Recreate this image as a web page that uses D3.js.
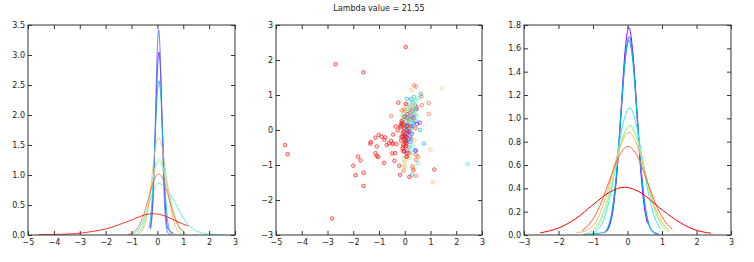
<!DOCTYPE html>
<html>
<head>
<meta charset="utf-8">
<script src="https://cdn.jsdelivr.net/npm/d3@7"></script>
<style>
  body { margin: 0; background: #fff; }
  text { font-family: "DejaVu Sans", sans-serif; }
</style>
</head>
<body>
<svg id="fig"></svg>
<script>
let lambdaValue = 21.55;

// rainbow colormap, 9 steps, purple -> red
let curveColors = ["#8000ff", "#4062fa", "#00b4eb", "#40ecd4", "#80ffb4",
                   "#c0eb8d", "#ffb462", "#ff6232", "#ff0000"];

let leftXTicks = [-5, -4, -3, -2, -1, 0, 1, 2, 3];
let leftYTicks = [0, 0.5, 1, 1.5, 2, 2.5, 3, 3.5];
let midXTicks = [-5, -4, -3, -2, -1, 0, 1, 2, 3];
let midYTicks = [-3, -2, -1, 0, 1, 2, 3];
let rightXTicks = [-3, -2, -1, 0, 1, 2, 3];
let rightYTicks = [0, 0.2, 0.4, 0.6, 0.8, 1.0, 1.2, 1.4, 1.6, 1.8];

// left panel densities, same order as curveColors
let leftCurves = [
    [[-0.27, 0.13], [-0.2, 0.41], [-0.135, 0.99], [-0.07, 1.85], [-0.005, 2.69], [0.06, 3.05], [0.125, 2.69], [0.19, 1.85], [0.255, 0.99], [0.32, 0.41], [0.385, 0.14], [0.5, 0.06], [0.6, 0.04]],
    [[-0.27, 0.09], [-0.184, 0.46], [-0.126, 1.11], [-0.067, 2.07], [-0.009, 3.02], [0.05, 3.42], [0.109, 3.02], [0.167, 2.07], [0.226, 1.11], [0.284, 0.46], [0.343, 0.15], [0.401, 0.04], [0.5, 0.01]],
    [[-0.33, 0.11], [-0.25, 0.35], [-0.17, 0.83], [-0.095, 1.56], [-0.018, 2.27], [0.06, 2.57], [0.138, 2.27], [0.215, 1.56], [0.293, 0.83], [0.37, 0.35], [0.448, 0.11], [0.525, 0.03], [0.65, 0.01]],
    [[-1.0, 0.02], [-0.8, 0.06], [-0.6, 0.18], [-0.4, 0.42], [-0.2, 0.68], [0.05, 0.86], [0.3, 0.79], [0.6, 0.6], [0.9, 0.36], [1.2, 0.17], [1.5, 0.07], [1.9, 0.02], [2.5, 0.0]],
    [[-0.85, 0.01], [-0.55, 0.17], [-0.4, 0.41], [-0.25, 0.76], [-0.1, 1.11], [0.05, 1.26], [0.24, 1.11], [0.43, 0.76], [0.62, 0.41], [0.81, 0.17], [1.0, 0.05], [1.15, 0.01]],
    [[-0.8, 0.01], [-0.52, 0.17], [-0.38, 0.4], [-0.24, 0.74], [-0.1, 1.08], [0.05, 1.23], [0.23, 1.08], [0.41, 0.74], [0.6, 0.4], [0.79, 0.17], [0.98, 0.05], [1.1, 0.02]],
    [[-0.7, 0.02], [-0.45, 0.22], [-0.33, 0.53], [-0.205, 0.99], [-0.083, 1.44], [0.04, 1.63], [0.19, 1.44], [0.34, 0.99], [0.49, 0.53], [0.64, 0.22], [0.79, 0.07], [0.94, 0.02]],
    [[-1.14, 0.01], [-0.925, 0.045], [-0.73, 0.14], [-0.535, 0.33], [-0.34, 0.62], [-0.145, 0.9], [0.05, 1.02], [0.245, 0.9], [0.44, 0.62], [0.635, 0.33], [0.83, 0.14], [0.95, 0.07]],
    [[-4.6, 0.005], [-4, 0.01], [-3.5, 0.015], [-3, 0.03], [-2.5, 0.06], [-2, 0.1], [-1.5, 0.17], [-1, 0.25], [-0.6, 0.32], [-0.2, 0.355], [0.2, 0.33], [0.6, 0.26], [1.0, 0.18], [1.2, 0.15]]
];

// right panel densities, same order as curveColors
let rightCurves = [
    [[-0.61, 0.03], [-0.52, 0.08], [-0.408, 0.24], [-0.296, 0.58], [-0.184, 1.08], [-0.072, 1.57], [0.04, 1.78], [0.152, 1.57], [0.264, 1.08], [0.376, 0.58], [0.488, 0.24], [0.578, 0.1]],
    [[-0.655, 0.02], [-0.538, 0.075], [-0.42, 0.23], [-0.303, 0.55], [-0.185, 1.03], [-0.068, 1.5], [0.05, 1.7], [0.168, 1.5], [0.285, 1.03], [0.403, 0.55], [0.52, 0.23], [0.638, 0.075], [0.755, 0.02], [0.9, 0.005]],
    [[-1.27, 0.005], [-1.0, 0.01], [-0.7, 0.02], [-0.56, 0.073], [-0.44, 0.226], [-0.32, 0.54], [-0.2, 1.01], [-0.08, 1.47], [0.04, 1.67], [0.16, 1.47], [0.28, 1.01], [0.4, 0.54], [0.52, 0.226], [0.64, 0.073], [0.75, 0.03], [0.9, 0.01]],
    [[-1.075, 0.009], [-0.855, 0.048], [-0.67, 0.147], [-0.489, 0.354], [-0.306, 0.661], [-0.123, 0.962], [0.06, 1.09], [0.243, 0.962], [0.426, 0.661], [0.609, 0.354], [0.792, 0.147], [0.96, 0.053]],
    [[-1.0, 0.036], [-0.77, 0.127], [-0.56, 0.305], [-0.35, 0.57], [-0.14, 0.83], [0.07, 0.94], [0.28, 0.83], [0.49, 0.57], [0.7, 0.305], [0.91, 0.127], [1.15, 0.034]],
    [[-1.23, 0.01], [-1.015, 0.041], [-0.8, 0.126], [-0.585, 0.302], [-0.37, 0.564], [-0.155, 0.821], [0.06, 0.93], [0.275, 0.821], [0.49, 0.564], [0.705, 0.302], [0.92, 0.126], [1.135, 0.041], [1.2, 0.028]],
    [[-1.47, 0.02], [-1.2, 0.04], [-0.9, 0.12], [-0.6, 0.35], [-0.3, 0.68], [0.04, 0.88], [0.35, 0.71], [0.6, 0.43], [0.85, 0.2], [1.05, 0.09], [1.2, 0.04]],
    [[-1.32, 0.039], [-1.08, 0.103], [-0.805, 0.247], [-0.53, 0.461], [-0.255, 0.671], [0.02, 0.76], [0.295, 0.671], [0.57, 0.461], [0.845, 0.247], [1.12, 0.103], [1.3, 0.05]],
    [[-2.53, 0.018], [-2, 0.06], [-1.5, 0.14], [-1, 0.26], [-0.5, 0.37], [-0.09, 0.41], [0.4, 0.36], [0.9, 0.24], [1.4, 0.13], [1.9, 0.05], [2.42, 0.015]]
];

// middle panel scatter, one list per colour
let scatterPurple = [[0.58, 0.21], [0.47, 0.17], [0.44, 0.59], [0.41, -0.59], [-0.03, -0.62], [0.1, -0.1], [0.15, 0.05], [0.2, -0.2], [0.12, 0.15], [0.05, -0.3], [0.25, 0.1], [0.18, -0.05], [0.08, 0.0], [0.22, 0.3], [0.3, 0.4], [0.14, -0.25], [0.02, -0.15], [0.28, -0.1], [0.35, 0.2], [0.1, 0.35], [0.06, -0.45], [0.2, 0.5]];
let scatterBlue = [[0.25, 0.88], [0.23, -0.34], [0.43, -0.59], [0.3, 0.55], [0.15, 0.3], [0.05, 0.1], [-0.05, -0.2], [0.2, -0.1], [0.35, 0.35], [0.1, -0.35], [0.28, 0.12], [0.0, 0.05], [0.4, 0.7], [0.12, 0.45], [-0.1, 0.15], [0.18, -0.5], [0.25, -0.25], [0.08, -0.6]];
let scatterCyan = [[0.62, 1.03], [0.36, 0.94], [0.74, -0.39], [0.59, 0.0], [0.28, -1.28], [0.08, 0.89], [0.32, 0.78], [0.45, 0.6], [0.2, 0.4], [0.1, 0.2], [0.3, 0.3], [0.05, -0.1], [0.38, 0.45], [0.15, -0.2], [0.25, 0.05], [-0.05, 0.3], [0.42, 0.25], [0.2, 0.65]];
let scatterTeal = [[2.44, -0.98], [0.31, -0.47], [0.5, -0.95], [0.42, 0.85], [0.55, 0.92], [0.35, 0.62], [0.2, 0.55], [0.1, 0.3], [-0.1, 0.2], [0.25, 0.2], [0.45, 0.4], [0.0, -0.05], [0.15, 0.1], [-0.05, 0.45], [0.3, -0.65], [0.38, 0.12], [0.12, -0.3], [0.22, 0.75]];
let scatterMint = [[-0.04, -1.01], [0.45, 0.7], [0.3, 0.5], [0.15, 0.6], [0.0, 0.35], [-0.12, 0.3], [0.2, 0.25], [0.4, 0.3], [0.1, 0.05], [-0.08, -0.3], [0.25, -0.15], [0.05, 0.55], [0.35, 0.85], [0.18, -0.45], [-0.15, 0.05]];
let scatterLime = [[1.43, 1.19], [-0.06, -0.85], [0.3, 0.75], [0.2, 0.45], [0.1, 0.6], [-0.05, 0.1], [0.4, 0.5], [0.25, 0.0], [0.0, -0.4], [0.15, -0.6], [0.35, 0.95], [-0.1, 0.4], [0.05, -0.75], [0.28, 0.3]];
let scatterGold = [[0.25, 1.14], [1.0, -0.56], [1.09, -1.49], [0.0, -1.04], [0.16, -0.19], [0.41, 0.05], [0.31, 0.67], [0.05, 0.75], [-0.02, 0.55], [0.15, -0.8], [0.0, -0.9], [0.12, 0.3], [-0.1, -0.6], [0.22, 0.6], [0.38, -0.3], [0.08, -0.45], [0.3, -1.05], [-0.05, 0.2]];
let scatterOrange = [[0.36, 1.28], [0.44, 1.24], [0.65, 0.96], [0.93, 0.77], [0.93, 0.46], [0.67, 0.71], [0.49, 0.65], [-0.53, 0.4], [-0.12, 0.56], [-0.01, 0.59], [0.31, 0.34], [0.41, 0.05], [0.44, -0.71], [0.52, -0.76], [0.44, -0.85], [0.3, -1.04], [0.32, -1.13], [0.34, -1.15], [0.44, -1.31], [-0.05, -1.16], [0.05, -0.76], [0.18, -0.66], [-0.08, -0.47], [-0.47, -0.41], [0.1, 0.45], [0.2, 0.1], [-0.15, -0.2], [0.28, 0.55]];
let scatterRed = [[0.04, 2.37], [-2.69, 1.88], [-1.61, 1.65], [-4.65, -0.43], [-4.55, -0.69], [-2.82, -2.53], [-1.6, -1.22], [-1.6, -1.6], [-1.91, -1.29], [-2.0, -1.02], [-1.81, -0.76], [-1.72, -0.87], [-1.32, -0.34], [-1.34, -0.39], [-1.14, -0.22], [-1.09, -0.47], [-1.14, -0.66], [-1.09, -0.74], [-1.03, -0.77], [-1.01, -0.14], [-0.9, -0.19], [-0.76, -0.21], [-0.79, -0.28], [-0.8, -0.94], [-0.7, -0.43], [-0.62, -0.38], [-0.53, -0.31], [-0.47, -0.38], [-0.49, -0.67], [-0.4, -0.88], [-0.37, -0.66], [-0.45, -0.13], [-0.32, -0.4], [-0.36, 0.1], [-0.27, -0.01], [-0.25, 0.78], [-0.21, -1.02], [-0.18, -1.28], [-0.08, -0.53], [-0.1, -0.19], [-0.13, 0.19], [-0.01, 0.38], [-0.05, -0.05], [-0.01, -0.28], [0.05, -0.38], [0.03, -0.47], [0.08, -0.76], [0.1, -0.66], [0.18, -1.34], [1.15, -1.13], [0.05, 0.74], [0.13, -0.04], [-0.05, 0.18], [-0.16, 0.08], [-0.08, -0.09], [0.0, -0.18], [-0.12, 0.25], [-0.18, 0.12], [-0.02, 0.05], [0.02, -0.33], [-0.06, -0.42], [0.06, -0.2], [-0.14, -0.3], [0.08, 0.12], [-0.03, -0.6]];

let scatterGroups = [scatterPurple, scatterBlue, scatterCyan, scatterTeal, scatterMint,
                     scatterLime, scatterGold, scatterOrange, scatterRed];

let W = 754, H = 262;
let plotTop = 25, plotBottom = 235;
let panels = [
    {x0: 28, x1: 235, xd: [-5, 3], yd: [0, 3.5], xt: leftXTicks, yt: leftYTicks, yf: ".1f"},
    {x0: 276, x1: 482, xd: [-5, 3], yd: [-3, 3], xt: midXTicks, yt: midYTicks, yf: "d"},
    {x0: 524, x1: 731, xd: [-3, 3], yd: [0, 1.8], xt: rightXTicks, yt: rightYTicks, yf: ".1f"}
];

let svg = d3.select("#fig").attr("width", W).attr("height", H);

svg.append("text")
    .attr("x", (panels[1].x0 + panels[1].x1) / 2)
    .attr("y", 11)
    .attr("text-anchor", "middle")
    .attr("font-size", 8)
    .attr("fill", "#222")
    .text("Lambda value = " + lambdaValue);

function makePanel(p, i) {
    let x = d3.scaleLinear().domain(p.xd).range([p.x0, p.x1]);
    let y = d3.scaleLinear().domain(p.yd).range([plotBottom, plotTop]);
    let g = svg.append("g");

    g.append("clipPath").attr("id", "clip" + i)
        .append("rect")
        .attr("x", p.x0).attr("y", plotTop)
        .attr("width", p.x1 - p.x0).attr("height", plotBottom - plotTop);

    let plot = g.append("g").attr("clip-path", "url(#clip" + i + ")");

    // axes: ticks inside, on all four sides
    let fx = d3.format("d"), fy = d3.format(p.yf);
    let axes = [
        [d3.axisBottom(x).tickValues(p.xt).tickFormat(fx), "translate(0," + plotBottom + ")", 4],
        [d3.axisTop(x).tickValues(p.xt).tickFormat(""), "translate(0," + plotTop + ")", 0],
        [d3.axisLeft(y).tickValues(p.yt).tickFormat(fy), "translate(" + p.x0 + ",0)", 3],
        [d3.axisRight(y).tickValues(p.yt).tickFormat(""), "translate(" + p.x1 + ",0)", 0]
    ];
    axes.forEach(function (a) {
        let ax = g.append("g")
            .attr("transform", a[1])
            .call(a[0].tickSizeInner(-4).tickSizeOuter(0).tickPadding(a[2]));
        ax.select(".domain").remove();
        ax.selectAll("line").attr("stroke", "#333");
        ax.selectAll("text")
            .attr("font-size", 8)
            .attr("fill", "#222")
            .style("font-family", "DejaVu Sans, sans-serif");
    });

    g.append("rect")
        .attr("x", p.x0).attr("y", plotTop)
        .attr("width", p.x1 - p.x0).attr("height", plotBottom - plotTop)
        .attr("fill", "none")
        .attr("stroke", "#333")
        .attr("stroke-width", 1);

    return {x: x, y: y, plot: plot};
}

let axL = makePanel(panels[0], 0);
let axM = makePanel(panels[1], 1);
let axR = makePanel(panels[2], 2);

function drawCurves(ax, curves, opacity) {
    let line = d3.line()
        .x(function (d) { return ax.x(d[0]); })
        .y(function (d) { return ax.y(d[1]); })
        .curve(d3.curveMonotoneX);
    curves.forEach(function (pts, i) {
        ax.plot.append("path")
            .datum(pts)
            .attr("d", line)
            .attr("fill", "none")
            .attr("stroke", curveColors[i])
            .attr("stroke-opacity", opacity)
            .attr("stroke-width", 1);
    });
}

drawCurves(axL, leftCurves, 0.8);
drawCurves(axR, rightCurves, 1);

scatterGroups.forEach(function (pts, i) {
    axM.plot.selectAll(null)
        .data(pts)
        .enter()
        .append("circle")
        .attr("cx", function (d) { return axM.x(d[0]); })
        .attr("cy", function (d) { return axM.y(d[1]); })
        .attr("r", 1.8)
        .attr("fill", curveColors[i])
        .attr("fill-opacity", 0.15)
        .attr("stroke", curveColors[i])
        .attr("stroke-opacity", 0.6)
        .attr("stroke-width", 1);
});
</script>
</body>
</html>
